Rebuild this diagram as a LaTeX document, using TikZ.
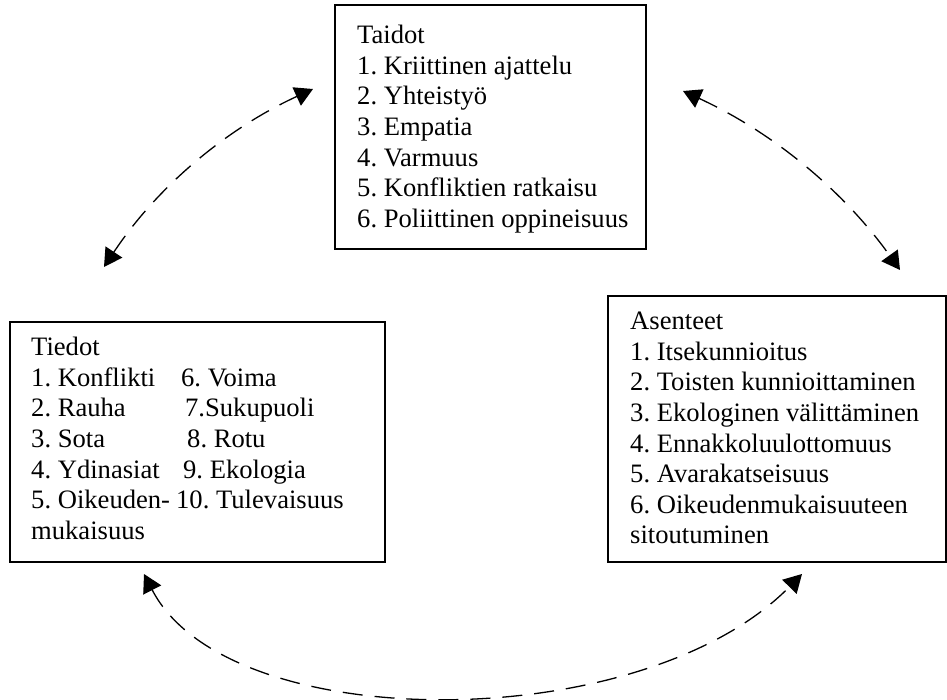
\documentclass[tikz,border=0pt]{standalone}
\usepackage{fontspec}
\setmainfont{Liberation Serif}
\usepackage{tikz}
\usetikzlibrary{arrows.meta}
\frenchspacing

\begin{document}
\begin{tikzpicture}[x=1pt, y=-1pt,
  box/.style={draw, line width=1.6pt, rectangle, anchor=north west, inner sep=0pt},
  listtext/.style={anchor=north west, align=left, inner sep=0pt, font=\fontsize{26.6pt}{30.6pt}\selectfont},
  linkarrow/.style={line width=1.3pt, dash pattern=on 20pt off 12pt,
    {Triangle[length=18pt,width=20pt]}-{Triangle[length=18pt,width=20pt]}}]%
\useasboundingbox (0,0) rectangle (947,700);%
% boxes
\node[box, minimum width=311pt, minimum height=244pt] (taidot) at (334,4) {};%
\node[box, minimum width=375pt, minimum height=240pt] (tiedot) at (9,321) {};%
\node[box, minimum width=338pt, minimum height=266pt] (asenteet) at (607,295) {};%
% texts
\node[listtext] (taidotlist) at (357,25) {Taidot\\1. Kriittinen ajattelu\\2. Yhteistyö\\3. Empatia\\4. Varmuus\\5. Konfliktien ratkaisu\\6. Poliittinen oppineisuus};%
\node[listtext] (tiedotlist) at (31,337) {Tiedot\\\makebox[150pt][l]{1. Konflikti}6. Voima\\\makebox[154pt][l]{2. Rauha}7.Sukupuoli\\\makebox[156pt][l]{3. Sota}8. Rotu\\\makebox[152pt][l]{4. Ydinasiat}9. Ekologia\\\makebox[145pt][l]{5. Oikeuden-}10. Tulevaisuus\\mukaisuus};%
\node[listtext] (asenteetlist) at (630,312) {Asenteet\\1. Itsekunnioitus\\2. Toisten kunnioittaminen\\3. Ekologinen välittäminen\\4. Ennakkoluulottomuus\\5. Avarakatseisuus\\6. Oikeudenmukaisuuteen\\sitoutuminen};%
% arrows
\coordinate (tlend) at (104,267);%
\coordinate (tlstart) at (313,89);%
\coordinate (trstart) at (683,91);%
\coordinate (trend) at (900,270);%
\coordinate (bleft) at (144,574);%
\coordinate (bright) at (802,574);%
\draw[linkarrow] (tlend) .. controls (157,187) and (226,129) .. (tlstart);%
\draw[linkarrow] (trstart) .. controls (772,132) and (843,190) .. (trend);%
\draw[linkarrow] (bleft) .. controls (228,737) and (642,737) .. (bright);%
\end{tikzpicture}
\end{document}
